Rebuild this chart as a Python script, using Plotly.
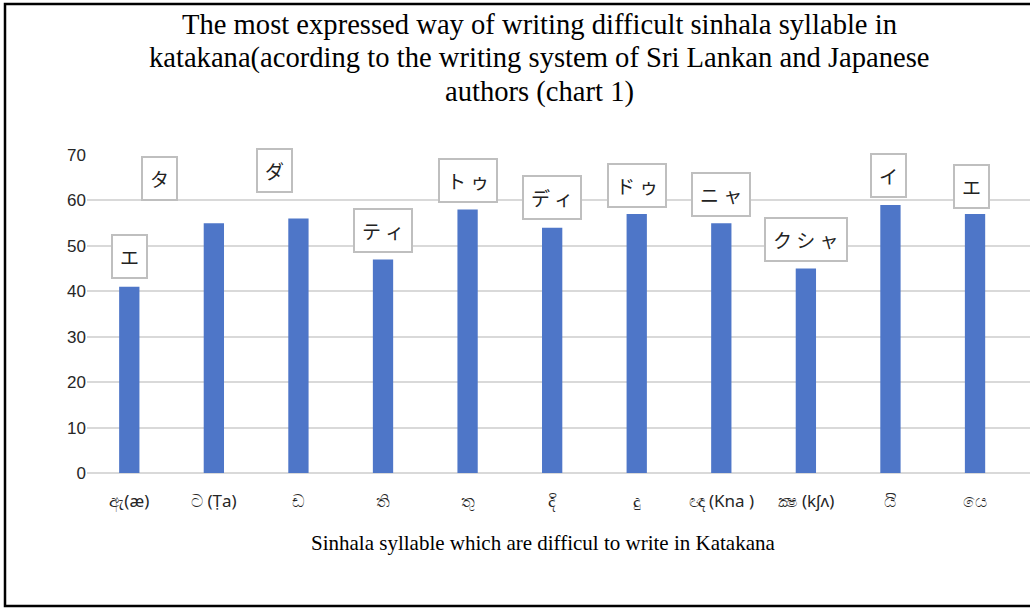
import plotly.graph_objects as go

categories = ["ඇ(æ)", "ට (Ṭa)", "ඩ", "ති", "තු", "දි", "දු", "ඥ (Kna )", "ක්‍ෂ (kʃʌ)", "යි", "යෙ"]
values = [41, 55, 56, 47, 58, 54, 57, 55, 45, 59, 57]
katakana = ["エ", "タ", "ダ", "テ ィ", "ト ゥ", "デ ィ", "ド ゥ", "ニ ャ", "ク シ ャ", "イ", "エ"]
# label offsets in pixels (xshift, yshift relative to bar top)
label_xshift = [0, -54, -24, 0, 0, 0, 0, 0, 0, -2, -4]
label_yshift = [30, 45, 48, 29, 29, 30, 29, 29, 29, 29, 28]

W, H = 1030, 609
L, R, T, B = 87, 0, 155, 136

title_lines = ["The most expressed way of writing difficult sinhala syllable in",
               "katakana(acording to the writing system of Sri Lankan and Japanese",
               "authors (chart 1)"]
title_line_y = [24, 58, 92]
xtitle = "Sinhala syllable which are difficul to write in Katakana"

x_idx = list(range(len(categories)))

fig = go.Figure()
fig.add_trace(go.Bar(
    x=x_idx, y=values, width=0.24,
    marker=dict(color="#4e76c8", line=dict(width=0)),
    hoverinfo="y",
))

annotations = []
for i, (v, k) in enumerate(zip(values, katakana)):
    annotations.append(dict(
        x=i, y=v, xref="x", yref="y", text=k, showarrow=False,
        xshift=label_xshift[i], yshift=label_yshift[i],
        font=dict(family="Noto Sans CJK JP", size=19, color="#222222"),
        bgcolor="white", bordercolor="#bfbfbf", borderwidth=2, borderpad=7,
        xanchor="center", yanchor="middle",
    ))

pw, ph = W - L - R, H - T - B
def px_x(p):
    return (p - L) / pw
def px_y(p):
    return (H - B - p) / ph

annotations.append(dict(
    x=px_x(543), y=px_y(543), xref="paper", yref="paper", text=xtitle,
    showarrow=False, xanchor="center", yanchor="middle",
    font=dict(family="Liberation Serif", size=21, color="black"),
))
for line, ly in zip(title_lines, title_line_y):
    annotations.append(dict(
        x=px_x(539), y=px_y(ly), xref="paper", yref="paper", text=line,
        showarrow=False, xanchor="center", yanchor="middle",
        font=dict(family="Liberation Serif", size=28.6, color="black"),
    ))

fig.update_layout(
    width=W, height=H,
    margin=dict(l=L, r=R, t=T, b=B),
    paper_bgcolor="white", plot_bgcolor="white",
    showlegend=False,
    xaxis=dict(
        range=[-0.5, 10.65], tickmode="array", tickvals=x_idx, ticktext=categories,
        showgrid=False, zeroline=False, showline=False, ticks="",
        tickfont=dict(family="Noto Sans, DejaVu Sans", size=17, color="#262626"),
        ticklabelstandoff=16,
    ),
    yaxis=dict(
        range=[0, 70], dtick=10, showgrid=True, gridcolor="#d9d9d9", gridwidth=1.5,
        zeroline=True, zerolinecolor="#d9d9d9", zerolinewidth=1.5,
        showline=False, ticks="",
        tickfont=dict(family="Liberation Sans", size=17, color="#262626"),
    ),
    annotations=annotations,
    shapes=[dict(type="rect", xref="paper", yref="paper",
                 x0=px_x(5), x1=px_x(1045), y0=px_y(606), y1=px_y(4),
                 line=dict(color="black", width=2.5), layer="below")],
)

fig.write_html("out.html", config={"displayModeBar": False},
               post_script="document.body.style.margin='0';document.body.style.overflow='hidden';")
